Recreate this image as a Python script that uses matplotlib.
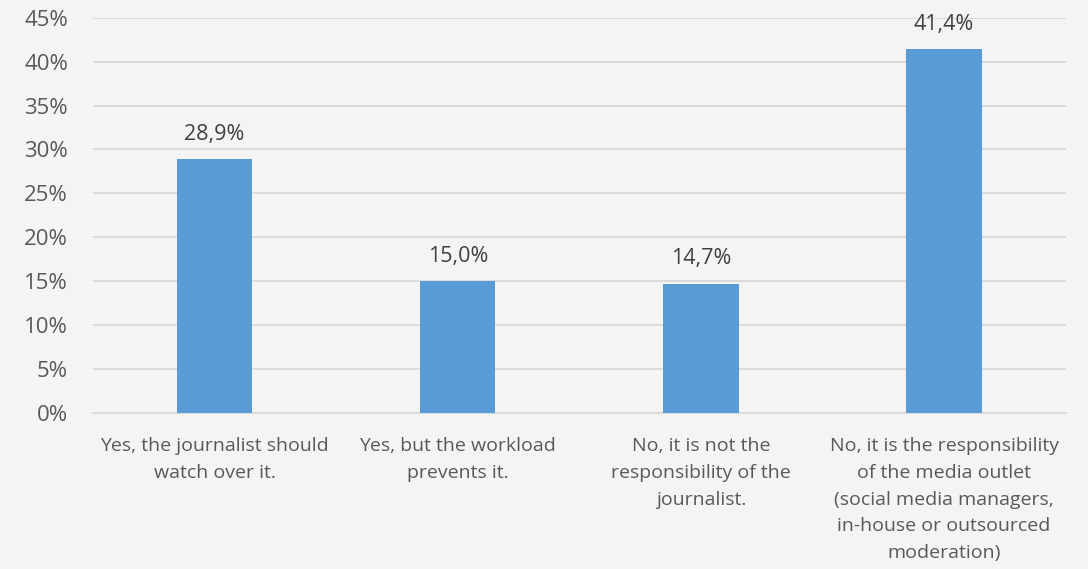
import matplotlib.pyplot as plt
from matplotlib.ticker import FuncFormatter, MultipleLocator

categories = [
    "Yes, the journalist should\nwatch over it.",
    "Yes, but the workload\nprevents it.",
    "No, it is not the\nresponsibility of the\njournalist.",
    "No, it is the responsibility\nof the media outlet\n(social media managers,\nin-house or outsourced\nmoderation)",
]
values = [28.9, 15.0, 14.7, 41.4]

BG = "#f4f4f4"
TEXT = "#595959"

plt.rcParams["font.family"] = ["Open Sans", "DejaVu Sans"]

fig = plt.figure(figsize=(10.88, 5.69), dpi=100, facecolor=BG)
ax = fig.add_axes([0.0855, 0.274, 0.894, 0.695], facecolor=BG)

x = range(len(categories))
bars = ax.bar(x, values, width=0.31, color="#5b9bd5", zorder=3)

for xi, v in zip(x, values):
    ax.annotate(f"{v:.1f}%".replace(".", ","), (xi, v), xytext=(0, 18),
                textcoords="offset points", ha="center", va="center",
                fontsize=15.5, color="#404040")

ax.set_xlim(-0.5, len(categories) - 0.5)
ax.set_ylim(0, 45)
ax.yaxis.set_major_locator(MultipleLocator(5))
ax.yaxis.set_major_formatter(FuncFormatter(lambda v, p: f"{v:.0f}%"))
ax.grid(axis="y", color="#d9d9d9", linewidth=1.3, zorder=0)

ax.set_xticks(list(x))
ax.set_xticklabels(categories, fontsize=14, color=TEXT, linespacing=1.62)
ax.tick_params(axis="x", length=0, pad=17.5)
ax.tick_params(axis="y", length=0, pad=18, labelsize=16, labelcolor=TEXT)

for side in ["top", "right", "left"]:
    ax.spines[side].set_visible(False)
ax.spines["bottom"].set_color("#d9d9d9")
ax.spines["bottom"].set_linewidth(1.3)

fig.savefig("out.png", dpi=100, facecolor=BG)
